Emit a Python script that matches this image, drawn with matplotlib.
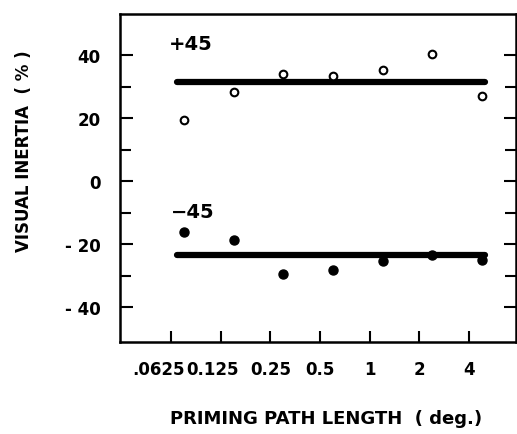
import numpy as np
import matplotlib
matplotlib.use("Agg")
import matplotlib.pyplot as plt
import matplotlib.transforms as mtransforms

# priming path length (deg.) for each measured point
path_len = [0.075, 0.15, 0.3, 0.6, 1.2, 2.4, 4.8]
plus45 = [19.3, 28.2, 33.9, 33.2, 35.1, 40.2, 26.9]
minus45 = [-16.1, -18.6, -29.4, -28.2, -25.4, -23.4, -24.9]

# horizontal fitted levels and their extent
fit_x = [0.068, 5.0]
fit_plus = 31.3
fit_minus = -23.4

tick_vals = [0.0625, 0.125, 0.25, 0.5, 1, 2, 4]
tick_labels = [".0625", "0.125", "0.25", "0.5", "1", "2", "4"]

plt.rcParams['font.family'] = ['DejaVu Sans']
plt.rcParams['font.weight'] = 'bold'

fig = plt.figure(figsize=(5.17, 4.35), dpi=100)
ax = fig.add_axes([0.232, 0.2115, 0.766, 0.754])

ax.plot(fit_x, [fit_plus, fit_plus], color='black', lw=4.5, solid_capstyle='round')
ax.plot(fit_x, [fit_minus, fit_minus], color='black', lw=4.5, solid_capstyle='round')
ax.plot(path_len, plus45, 'o', mfc='white', mec='black', mew=1.5, ms=5.5, ls='none')
ax.plot(path_len, minus45, 'o', color='black', ms=6.5, ls='none')

ax.text(0.0605, 43.7, "+45", fontsize=14, fontweight='bold', ha='left', va='center')
ax.text(0.0625, -9.5, "\u221245", fontsize=14, fontweight='bold', ha='left', va='center')

ax.set_xscale('log', base=2)
ax.set_xlim(0.0306, 7.7)
ax.set_ylim(-51, 53)
ax.set_xticks(tick_vals)
ax.set_xticklabels(tick_labels)
ax.minorticks_off()
ax.set_yticks([-40, -20, 0, 20, 40])
ax.set_yticklabels(["- 40", "- 20", "0", "20", "40"])
ax.set_yticks(np.arange(-40, 50, 10), minor=True)

ax.tick_params(axis='both', which='both', direction='in', width=1.5, labelsize=12)
ax.tick_params(axis='x', which='major', length=8, pad=13, top=False)
ax.tick_params(axis='y', which='major', length=9, right=True, pad=14)
ax.tick_params(axis='y', which='minor', length=8, right=True)
for s in ax.spines.values():
    s.set_linewidth(1.8)

# the first two labels sit a little left of their ticks in the original
for lab, dx in zip(ax.get_xticklabels()[:2], [-13, -8]):
    lab.set_transform(lab.get_transform() + mtransforms.ScaledTranslation(dx / 100, 0, fig.dpi_scale_trans))

ax.set_xlabel("PRIMING PATH LENGTH  ( deg.)", fontsize=13, fontweight='bold')
ax.set_ylabel("VISUAL INERTIA  ( % )", fontsize=12, fontweight='bold')
ax.xaxis.set_label_coords(0.52, -0.204)
ax.yaxis.set_label_coords(-0.22, 0.585)

fig.savefig("out.png", dpi=100)
